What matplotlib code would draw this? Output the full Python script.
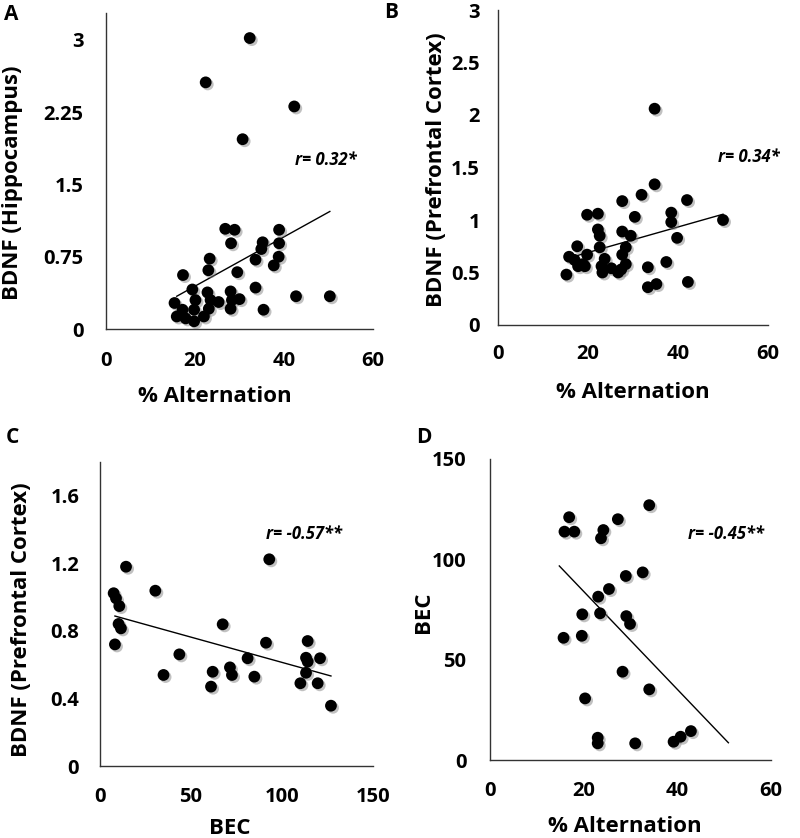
import matplotlib
matplotlib.use("Agg")
import matplotlib.pyplot as plt
import matplotlib.patheffects as pe

plt.rcParams['font.family'] = ['Open Sans', 'DejaVu Sans']
plt.rcParams['font.weight'] = 'bold'

# ---------------- Panel A ----------------
a_x = [32.3, 22.4, 42.3, 30.7, 26.8, 28.9, 38.9, 28.1, 35.2, 38.9, 34.9, 23.3, 38.8,
       33.6, 37.7, 23.0, 29.5, 17.3, 19.4, 33.6, 22.8, 28.0, 42.7, 50.3, 20.1, 23.5,
       25.3, 28.3, 30.0, 15.4, 17.2, 19.8, 23.1, 28.0, 35.4, 15.9, 17.9, 19.8, 22.0]
a_y = [3.02, 2.56, 2.31, 1.97, 1.04, 1.03, 1.03, 0.89, 0.90, 0.89, 0.83, 0.73, 0.75,
       0.72, 0.66, 0.61, 0.59, 0.56, 0.41, 0.43, 0.38, 0.39, 0.34, 0.34, 0.30, 0.30,
       0.28, 0.30, 0.31, 0.27, 0.20, 0.20, 0.21, 0.21, 0.20, 0.13, 0.11, 0.08, 0.13]
a_trend_x = [15.9, 50.3]
a_trend_y = [0.34, 1.22]
a_xticks = [0, 20, 40, 60]
a_yticks = [0, 0.75, 1.5, 2.25, 3]
a_yticklabels = ['0', '0.75', '1.5', '2.25', '3']

# ---------------- Panel B ----------------
b_x = [34.8, 34.8, 31.9, 27.6, 42.0, 19.8, 22.2, 30.4, 38.5, 38.5, 50.0, 22.2, 22.6,
       27.6, 29.5, 39.8, 17.6, 22.6, 28.4, 15.8, 19.8, 23.7, 27.6, 17.0, 17.8, 19.3,
       23.0, 25.2, 28.4, 27.4, 37.4, 33.3, 15.2, 23.2, 26.7, 33.3, 35.2, 42.2, 18.9]
b_y = [2.06, 1.34, 1.24, 1.18, 1.19, 1.05, 1.06, 1.03, 1.07, 0.98, 1.00, 0.91, 0.85,
       0.89, 0.85, 0.83, 0.75, 0.74, 0.74, 0.65, 0.67, 0.63, 0.67, 0.62, 0.56, 0.56,
       0.56, 0.54, 0.58, 0.53, 0.60, 0.55, 0.48, 0.50, 0.50, 0.36, 0.39, 0.41, 0.58]
b_trend_x = [15.2, 50.0]
b_trend_y = [0.632, 1.055]
b_xticks = [0, 20, 40, 60]
b_yticks = [0, 0.5, 1, 1.5, 2, 2.5, 3]
b_yticklabels = ['0', '0.5', '1', '1.5', '2', '2.5', '3']

# ---------------- Panel C ----------------
c_x = [93.0, 14.3, 30.4, 7.5, 8.8, 10.6, 10.2, 11.5, 67.4, 8.2, 91.2, 114.1, 43.6,
       81.1, 113.2, 120.9, 114.1, 34.9, 61.9, 71.4, 72.5, 84.8, 113.2, 110.1, 119.6,
       61.0, 126.9]
c_y = [1.224, 1.18, 1.038, 1.023, 0.993, 0.947, 0.841, 0.815, 0.839, 0.72, 0.73, 0.74,
       0.661, 0.638, 0.641, 0.638, 0.618, 0.539, 0.558, 0.584, 0.539, 0.529, 0.552,
       0.49, 0.49, 0.47, 0.357]
c_trend_x = [8.2, 126.9]
c_trend_y = [0.888, 0.533]
c_xticks = [0, 50, 100, 150]
c_yticks = [0, 0.4, 0.8, 1.2, 1.6]
c_yticklabels = ['0', '0.4', '0.8', '1.2', '1.6']

# ---------------- Panel D ----------------
d_x = [34.0, 16.9, 27.3, 15.9, 18.0, 24.2, 23.7, 32.6, 29.0, 25.4, 23.1, 19.7, 23.5,
       29.1, 29.9, 15.7, 19.6, 28.3, 34.0, 20.3, 23.0, 23.0, 31.0, 39.2, 40.7, 42.9]
d_y = [127, 121, 120, 113.8, 113.8, 114.6, 110.5, 93.5, 91.7, 85.2, 81.4, 72.6, 73.1,
       71.7, 67.8, 60.9, 61.9, 44.0, 35.2, 30.7, 11.1, 8.3, 8.3, 9.1, 11.6, 14.4]
d_trend_x = [14.8, 50.9]
d_trend_y = [96.7, 8.6]
d_xticks = [0, 20, 40, 60]
d_yticks = [0, 50, 100, 150]
d_yticklabels = ['0', '50', '100', '150']

W, H = 800, 838
fig = plt.figure(figsize=(W / 100, H / 100), dpi=100)


def rect(l, r, t, b):
    return [l / W, 1 - b / H, (r - l) / W, (b - t) / H]


def panel(box, xs, ys, tx, ty, xlim, ylim, xticks, yticks, yticklabels, rtext, rpos,
          xpad, ypad):
    ax = fig.add_axes(rect(*box))
    ax.scatter(xs, ys, s=72, color='black', zorder=3, linewidths=0,
               path_effects=[pe.SimplePatchShadow(offset=(1.5, -1.5), shadow_rgbFace='#777777', alpha=0.45),
                             pe.Normal()])
    ax.plot(tx, ty, color='black', lw=1.0, zorder=2)
    ax.set_xlim(*xlim)
    ax.set_ylim(*ylim)
    ax.set_xticks(xticks)
    ax.set_xticklabels([str(v) for v in xticks])
    ax.set_yticks(yticks)
    ax.set_yticklabels(yticklabels)
    for s in ['top', 'right']:
        ax.spines[s].set_visible(False)
    for s in ['left', 'bottom']:
        ax.spines[s].set_color('#333333')
        ax.spines[s].set_linewidth(1.0)
    ax.tick_params(length=0, labelsize=14.5)
    ax.tick_params(axis='x', pad=xpad)
    ax.tick_params(axis='y', pad=ypad)
    for lab in ax.get_xticklabels() + ax.get_yticklabels():
        lab.set_fontweight('bold')
    fig.text(rpos[0] / W, 1 - rpos[1] / H, rtext, fontsize=12, fontweight='bold',
             fontstyle='italic', ha='left', va='center')
    return ax


panel((106, 373, 13, 329), a_x, a_y, a_trend_x, a_trend_y, (0, 60), (0, 3.28),
      a_xticks, a_yticks, a_yticklabels, 'r= 0.32*', (295, 160), 16, 16)
panel((498, 768, 10, 325), b_x, b_y, b_trend_x, b_trend_y, (0, 60), (0, 3),
      b_xticks, b_yticks, b_yticklabels, 'r= 0.34*', (718, 157), 14, 13)
panel((100, 373, 462, 766), c_x, c_y, c_trend_x, c_trend_y, (0, 150), (0, 1.8),
      c_xticks, c_yticks, c_yticklabels, 'r= -0.57**', (266, 534), 15, 15)
panel((490, 771, 459, 760), d_x, d_y, d_trend_x, d_trend_y, (0, 60), (0, 150),
      d_xticks, d_yticks, d_yticklabels, 'r= -0.45**', (688, 534), 15, 17)


def ftext(x, y, s, size=16, rot=0):
    fig.text(x / W, 1 - y / H, s, fontsize=size, fontweight='bold', rotation=rot,
             ha='center', va='center')


ftext(215, 396, '% Alternation')
ftext(13, 183, 'BDNF (Hippocampus)', rot=90)
ftext(633, 392, '% Alternation')
ftext(436, 170, 'BDNF (Prefrontal Cortex)', rot=90)
ftext(230, 828, 'BEC')
ftext(22, 620, 'BDNF (Prefrontal Cortex)', rot=90)
ftext(625, 826, '% Alternation')
ftext(423, 612, 'BEC', rot=90)

ftext(11, 14, 'A', size=15)
ftext(391, 13, 'B', size=15)
ftext(12, 437, 'C', size=15)
ftext(424, 437, 'D', size=15)

fig.savefig('out.png', dpi=100)
